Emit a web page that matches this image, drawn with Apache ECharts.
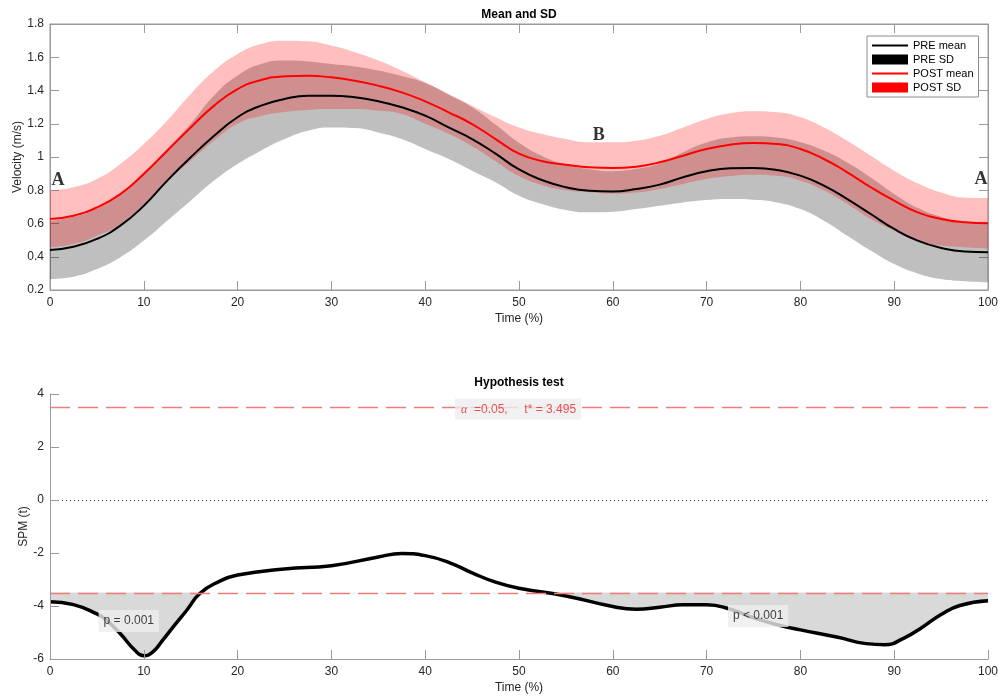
<!DOCTYPE html>
<html><head><meta charset="utf-8">
<script src="https://cdn.jsdelivr.net/npm/echarts@6/dist/echarts.min.js"></script>
<style>html,body{margin:0;padding:0;background:#fff}#c{width:998px;height:696px}</style>
</head><body><div id="c"></div>
<script>
// ---- data: top panel (Mean and SD) ----
const time      = [0,2.5,5,7.5,10,12.5,15,17.5,20,22.5,25,27.5,30,32.5,35,37.5,40,42.5,45,47.5,50,
                   52.5,55,57.5,60,62.5,65,67.5,70,72.5,75,77.5,80,82.5,85,87.5,90,92.5,95,97.5,100];
const preMean   = [0.44,0.46,0.507,0.587,0.707,0.858,0.998,1.128,1.239,1.309,1.349,1.369,1.369,1.359,1.335,1.299,1.249,1.178,1.108,1.02,0.925,
                   0.86,0.818,0.797,0.793,0.808,0.834,0.878,0.914,0.932,0.934,0.922,0.888,0.828,0.747,0.657,0.567,0.497,0.453,0.431,0.427];
const preUpper  = [0.615,0.64,0.69,0.775,0.91,1.05,1.20,1.37,1.49,1.56,1.58,1.575,1.56,1.545,1.52,1.487,1.445,1.375,1.30,1.195,1.085,
                   1.005,0.955,0.927,0.915,0.929,0.961,1.029,1.087,1.117,1.125,1.117,1.089,1.039,0.967,0.877,0.778,0.694,0.64,0.61,0.608];
const preLower  = [0.266,0.28,0.326,0.397,0.497,0.617,0.737,0.858,0.958,1.038,1.108,1.158,1.178,1.174,1.148,1.108,1.048,0.988,0.918,0.848,0.767,
                   0.717,0.681,0.667,0.671,0.687,0.707,0.727,0.741,0.747,0.743,0.727,0.687,0.617,0.527,0.437,0.356,0.300,0.266,0.252,0.246];
const postMean  = [0.627,0.647,0.697,0.777,0.898,1.038,1.178,1.309,1.409,1.463,1.485,1.489,1.479,1.459,1.429,1.389,1.335,1.269,1.198,1.108,1.02,
                   0.975,0.954,0.938,0.934,0.942,0.968,1.008,1.048,1.074,1.084,1.078,1.048,0.988,0.908,0.818,0.737,0.667,0.627,0.607,0.601];
const postUpper = [0.797,0.818,0.868,0.958,1.078,1.219,1.379,1.519,1.62,1.68,1.70,1.696,1.67,1.63,1.58,1.519,1.449,1.379,1.309,1.239,1.178,
                   1.138,1.108,1.088,1.088,1.098,1.128,1.178,1.229,1.263,1.275,1.269,1.239,1.178,1.098,1.008,0.918,0.842,0.787,0.757,0.753];
const postLower = [0.457,0.476,0.526,0.596,0.718,0.857,0.977,1.099,1.20,1.246,1.27,1.282,1.288,1.288,1.278,1.259,1.20,1.14,1.065,0.975,0.885,
                   0.83,0.80,0.788,0.78,0.786,0.808,0.838,0.867,0.885,0.893,0.887,0.857,0.798,0.718,0.628,0.556,0.492,0.467,0.457,0.449];

// ---- data: bottom panel (Hypothesis test) ----
const spmTime = [0,2.5,5,6,7.5,9,10,11,12,13.2,14.6,16,18,20,25,30,35,37.5,40,42.5,45,47.5,50,55,60,62.5,65,67.5,70,72.5,75,78,80,84,87,89,91,93,95,97,100];
const spmT    = [-3.84,-3.95,-4.3,-4.53,-5.05,-5.65,-5.88,-5.72,-5.3,-4.76,-4.15,-3.52,-3.08,-2.83,-2.6,-2.48,-2.15,-2.02,-2.1,-2.35,-2.75,-3.1,-3.33,-3.62,-4.02,-4.12,-4.05,-3.95,-3.95,-4.12,-4.45,-4.75,-4.9,-5.18,-5.42,-5.46,-5.22,-4.8,-4.32,-3.98,-3.8];
const tCrit = 3.495;
const alpha = 0.05;
const pLabels = ['p = 0.001', 'p < 0.001'];

const FONT = 'Liberation Sans, Arial, Helvetica, sans-serif';
const AX = '#9a9a9a', TXT = '#262626';

const pairs = (xs, ys) => xs.map((x, i) => [x, ys[i]]);
const diff = (a, b) => a.map((v, i) => +(v - b[i]).toFixed(4));
const critLine = spmTime.map(x => [x, -tCrit]);

const axName = {fontFamily: FONT, fontSize: 12, color: TXT};
const axLbl = (show, margin) => ({show: show, margin: margin, fontFamily: FONT, fontSize: 12, color: TXT});
const axLine = {show: true, onZero: false, lineStyle: {color: AX, width: 1}};
const axTick = {show: true, inside: true, length: 9, lineStyle: {color: AX}};

const SM = 0.5;
const lineIcon = 'path://M0,0L36,0L36,2.2L0,2.2Z';
const annLetter = {fontFamily: 'Liberation Serif, Times New Roman, serif', fontWeight: 'bold', fontSize: 18, color: '#000'};
const annBox = {fontFamily: FONT, fontSize: 12, color: '#111', backgroundColor: '#eeeeee', padding: [5, 5, 5, 5]};

const option = {
  animation: false,
  backgroundColor: '#fff',
  grid: [
    {left: 50, right: 10, top: 24, height: 266, show: true, borderColor: AX, borderWidth: 1, outerBoundsMode: 'none', containLabel: false},
    {left: 50, right: 10, top: 394, height: 265, outerBoundsMode: 'none', containLabel: false}
  ],
  xAxis: [
    {type: 'category', gridIndex: 0, position: 'bottom', data: time.map(String), boundaryGap: false,
     name: 'Time (%)', nameLocation: 'middle', nameGap: 23, nameTextStyle: axName, nameMoveOverlap: false,
     axisLine: axLine, axisTick: Object.assign({interval: 3}, axTick), axisLabel: Object.assign({interval: 3}, axLbl(true, 7)),
     splitLine: {show: false}},
    {type: 'value', gridIndex: 0, position: 'top', min: 0, max: 100, interval: 10,
     axisLine: axLine, axisTick: axTick, axisLabel: axLbl(false, 7), splitLine: {show: false}},
    {type: 'value', gridIndex: 1, position: 'bottom', min: 0, max: 100, interval: 10, z: 6,
     name: 'Time (%)', nameLocation: 'middle', nameGap: 23, nameTextStyle: axName, nameMoveOverlap: false,
     axisLine: axLine, axisTick: axTick, axisLabel: axLbl(true, 7), splitLine: {show: false}}
  ],
  yAxis: [
    {type: 'value', gridIndex: 0, position: 'left', min: 0.2, max: 1.8, interval: 0.2,
     name: 'Velocity (m/s)', nameLocation: 'middle', nameGap: 26, nameTextStyle: axName, nameMoveOverlap: false,
     axisLine: axLine, axisTick: axTick, axisLabel: axLbl(true, 6), splitLine: {show: false}},
    {type: 'value', gridIndex: 0, position: 'right', min: 0.2, max: 1.8, interval: 0.2,
     axisLine: axLine, axisTick: axTick, axisLabel: axLbl(false, 6), splitLine: {show: false}},
    {type: 'value', gridIndex: 1, position: 'left', min: -6, max: 4, interval: 2, z: 6,
     name: 'SPM (t)', nameLocation: 'middle', nameGap: 20, nameTextStyle: axName, nameMoveOverlap: false,
     axisLine: axLine, axisTick: axTick, axisLabel: axLbl(true, 6), splitLine: {show: false}}
  ],
  graphic: [
    {type: 'text', x: 519, y: 15, style: {text: 'Mean and SD', align: 'center', verticalAlign: 'middle', textAlign: 'center', textVerticalAlign: 'middle', font: 'bold 12px ' + FONT, fill: '#000'}},
    {type: 'text', x: 519, y: 383, style: {text: 'Hypothesis test', align: 'center', verticalAlign: 'middle', textAlign: 'center', textVerticalAlign: 'middle', font: 'bold 12px ' + FONT, fill: '#000'}}
  ],
  legend: {
    left: 867, top: 36, orient: 'vertical', itemWidth: 36, itemHeight: 10, itemGap: 3,
    padding: [4, 5, 4, 5], borderColor: '#8c8c8c', borderWidth: 1, backgroundColor: '#fff',
    textStyle: {fontFamily: FONT, fontSize: 11, color: '#000'},
    selectedMode: false,
    data: [
      {name: 'PRE mean', icon: lineIcon, itemStyle: {color: '#000'}},
      {name: 'PRE SD', icon: 'rect', itemStyle: {color: '#000'}},
      {name: 'POST mean', icon: lineIcon, itemStyle: {color: '#ff0000'}},
      {name: 'POST SD', icon: 'rect', itemStyle: {color: '#ff0000'}}
    ]
  },
  series: [
    // PRE SD band (stacked: lower + width)
    {type: 'line', name: 'preBase', xAxisIndex: 0, yAxisIndex: 0, stack: 'pre', data: preLower,
     smooth: SM, symbol: 'none', lineStyle: {width: 0, opacity: 0}, silent: true},
    {type: 'line', name: 'PRE SD', xAxisIndex: 0, yAxisIndex: 0, stack: 'pre', data: diff(preUpper, preLower),
     smooth: SM, symbol: 'none', color: '#000', lineStyle: {width: 0, opacity: 0},
     areaStyle: {color: 'rgba(0,0,0,0.25)', opacity: 1}, silent: true},
    // POST SD band
    {type: 'line', name: 'postBase', xAxisIndex: 0, yAxisIndex: 0, stack: 'post', data: postLower,
     smooth: SM, symbol: 'none', lineStyle: {width: 0, opacity: 0}, silent: true},
    {type: 'line', name: 'POST SD', xAxisIndex: 0, yAxisIndex: 0, stack: 'post', data: diff(postUpper, postLower),
     smooth: SM, symbol: 'none', color: '#ff0000', lineStyle: {width: 0, opacity: 0},
     areaStyle: {color: 'rgba(255,0,0,0.25)', opacity: 1}, silent: true},
    // means
    {type: 'line', name: 'PRE mean', xAxisIndex: 0, yAxisIndex: 0, data: preMean,
     smooth: SM, symbol: 'none', color: '#000', lineStyle: {width: 2, color: '#000'}, z: 5},
    {type: 'line', name: 'POST mean', xAxisIndex: 0, yAxisIndex: 0, data: postMean,
     smooth: SM, symbol: 'none', color: '#ff0000', lineStyle: {width: 2, color: '#ff0000'}, z: 5},
    // A / B phase letters
    {type: 'scatter', name: 'phases', xAxisIndex: 1, yAxisIndex: 1, symbolSize: 1, silent: true, z: 10,
     itemStyle: {color: 'rgba(0,0,0,0)'},
     label: Object.assign({show: true, position: 'inside'}, annLetter),
     data: [
       {value: [0.85, 0.862], label: {formatter: 'A'}},
       {value: [99.25, 0.868], label: {formatter: 'A'}},
       {value: [58.5, 1.132], label: {formatter: 'B'}}
     ]},
    // bottom: gray region below the critical threshold
    {type: 'line', name: 'critFill', xAxisIndex: 2, yAxisIndex: 2, data: critLine,
     symbol: 'none', lineStyle: {width: 0, opacity: 0}, areaStyle: {origin: 'start', color: '#d9d9d9', opacity: 1},
     silent: true, z: 1},
    // white region below SPM curve (leaves only supra-threshold clusters gray)
    {type: 'line', name: 'belowCurve', xAxisIndex: 2, yAxisIndex: 2, data: pairs(spmTime, spmT),
     smooth: SM, symbol: 'none', lineStyle: {width: 0, opacity: 0}, areaStyle: {origin: 'start', color: '#ffffff', opacity: 1},
     silent: true, z: 2},
    // reference lines
    {type: 'line', name: 'refs', xAxisIndex: 2, yAxisIndex: 2, data: critLine,
     symbol: 'none', lineStyle: {width: 0, opacity: 0}, silent: true, z: 3,
     markLine: {
       silent: true, symbol: 'none', label: {show: false}, animation: false,
       data: [
         {yAxis: tCrit, lineStyle: {color: '#f07c7c', width: 1.3, type: [20, 8]}},
         {yAxis: -tCrit, lineStyle: {color: '#f07c7c', width: 1.3, type: [20, 8]}},
         {yAxis: 0, lineStyle: {color: '#333', width: 1, type: [1, 3]}}
       ]
     }},
    // SPM{t}
    {type: 'line', name: 'SPM', xAxisIndex: 2, yAxisIndex: 2, data: pairs(spmTime, spmT),
     smooth: SM, symbol: 'none', lineStyle: {width: 3.5, color: '#000'}, z: 4},
    // annotations
    {type: 'scatter', name: 'notes', xAxisIndex: 2, yAxisIndex: 2, symbolSize: 1, silent: true, z: 10,
     itemStyle: {color: 'rgba(0,0,0,0)'},
     label: Object.assign({show: true, position: 'inside'}, annBox),
     data: [
       {value: [8.4, -4.57], label: {formatter: pLabels[0]}},
       {value: [75.5, -4.38], label: {formatter: pLabels[1]}},
       {value: [49.9, 3.43], label: {
         formatter: '{a|α}  =' + alpha.toFixed(2) + ',     t* = ' + tCrit.toFixed(3),
         color: '#e8262b', padding: [5, 5, 4, 6],
         rich: {a: {fontFamily: 'Liberation Serif, serif', fontStyle: 'italic', fontSize: 12, color: '#e8262b'}}
       }}
     ]}
  ]
};

const chart = echarts.init(document.getElementById('c'));
chart.setOption(option);
</script>
</body></html>
